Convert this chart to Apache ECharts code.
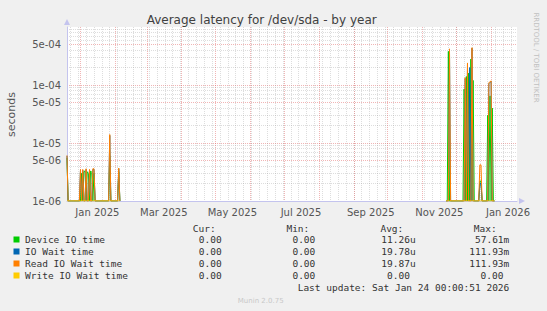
<!DOCTYPE html>
<html><head><meta charset="utf-8">
<script src="https://cdn.jsdelivr.net/npm/echarts@6/dist/echarts.min.js"></script>
<style>html,body{margin:0;padding:0;background:#f0f0f0}#c{width:547px;height:311px}</style>
</head><body><div id="c"></div>
<script>
// ---------------- data ----------------
const seriesNames = ['Device IO time', 'IO Wait time', 'Read IO Wait time', 'Write IO Wait time'];
const seriesColors = ['#00cc00', '#0066b3', '#ff8000', '#ffcc00'];

// daily values, window 1 starts 2024-12-20, window 2 starts 2025-11-22 (0 = idle)
const window1Start = [2024, 11, 20];
const window2Start = [2025, 10, 22];

const deviceIO_w1 = [5.5e-6, 0,0,0,0,0,0,0,0,0,0,0,
  0,3.0e-6,0,3.2e-6,3.3e-6,0,3.2e-6,3.0e-6,0,3.3e-6,3.1e-6,0,3.0e-6,0,
  0,0,0,0,0,0,0,0,0,0,0,0,
  6e-6,0,0,0,0,0,0,0,3.2e-6,0];
const ioWait_w1 = [6.0e-6, 0,0,0,0,0,0,0,0,0,0,0,
  3.4e-6,0,3.4e-6,0,0,3.5e-6,0,0,3.4e-6,0,0,3.5e-6,3.5e-6,0,
  0,0,0,0,0,0,0,0,0,0,0,0,
  1.35e-5,0,0,0,0,0,0,0,3.6e-6,0];
const readIO_w1 = [6.1e-6, 0,0,0,0,0,0,0,0,0,0,0,
  3.5e-6,0,3.5e-6,0,0,3.6e-6,0,0,3.5e-6,0,0,3.6e-6,3.6e-6,0,
  0,0,0,0,0,0,0,0,0,0,0,0,
  1.4e-5,0,0,0,0,0,0,0,3.7e-6,0];
const writeIO_w1 = [0,0,0,0,0,0,0,0,0,0,0,0,
  0,0,0,0,0,0,0,0,0,0,0,0,0,0,
  0,0,0,0,0,0,0,0,0,0,0,0,
  0,0,0,0,0,0,0,0,0,0];

const deviceIO_w2 = [0,0,3.8e-4,0,
  0,0,0,0,0,0,0,0,0,0,0,0,
  8.5e-5,0,1.4e-4,0,1.6e-4,0,2.8e-4,0,1.2e-4,
  0,0,0,0,0,
  2.2e-6,2.2e-6,
  0,0,0,0,0,
  3e-5,0,6.5e-5,0,4e-5,0,0];
const ioWait_w2 = [0,0,0,4.0e-4,
  0,0,0,0,0,0,0,0,0,0,0,0,
  0,1.3e-4,0,2.3e-4,0,2.0e-4,0,4.3e-4,0,
  0,0,0,0,0,
  2.0e-6,2.0e-6,
  0,0,0,0,0,
  0,1.05e-4,1.1e-4,1.15e-4,0,0,0];
const readIO_w2 = [0,0,0,4.2e-4,
  0,0,0,0,0,0,0,0,0,0,0,0,
  0,1.34e-4,0,2.4e-4,0,0,0,4.4e-4,0,
  0,0,0,0,0,
  4.2e-6,4.2e-6,
  0,0,0,0,0,
  0,1.1e-4,1.13e-4,1.18e-4,0,0,0];
const writeIO_w2 = [0,0,0,0,
  0,0,0,0,0,0,0,0,0,0,0,0,
  0,0,0,0,0,0,0,0,0,
  0,0,0,0,0,
  0,0,
  0,0,0,0,0,
  0,0,0,0,0,0,0];

// axis ticks / labels
const yLabelValues = [1e-6, 5e-6, 1e-5, 5e-5, 1e-4, 5e-4];
const yLabelTexts = ['1e-06', '5e-06', '1e-05', '5e-05', '1e-04', '5e-04'];
const xLabelDates = [[2025,0,16],[2025,2,16],[2025,4,16],[2025,6,16],[2025,8,16],[2025,10,16],[2026,0,16]];
const xLabelTexts = ['Jan 2025','Mar 2025','May 2025','Jul 2025','Sep 2025','Nov 2025','Jan 2026'];

// legend table
const legCur = ['0.00','0.00','0.00','0.00'];
const legMin = ['0.00','0.00','0.00','0.00'];
const legAvg = ['11.26u','19.78u','19.87u','0.00'];
const legMax = ['57.61m','111.93m','111.93m','0.00'];
const lastUpdate = 'Last update: Sat Jan 24 00:00:51 2026';

// ---------------- build ----------------
const xMin = new Date(2024, 11, 20, 0, 0, 51).getTime();
const xMax = new Date(2026, 0, 24, 0, 0, 51).getTime();
const yMin = 1e-6, yMax = 1e-3;

function ts(a) { return new Date(a[0], a[1], a[2]).getTime(); }
function windowPoints(start, vals) {
  return vals.map((v, i) => [new Date(start[0], start[1], start[2] + i).getTime(), v <= yMin ? yMin : v]);
}
function buildSeries(w1, w2) {
  const endW1 = new Date(window1Start[0], window1Start[1], window1Start[2] + w1.length).getTime();
  return windowPoints(window1Start, w1).concat([[endW1, null]], windowPoints(window2Start, w2));
}
const allData = [
  buildSeries(deviceIO_w1, deviceIO_w2),
  buildSeries(ioWait_w1, ioWait_w2),
  buildSeries(readIO_w1, readIO_w2),
  buildSeries(writeIO_w1, writeIO_w2)
];

// grid line positions
const monthStarts = [];
for (let m = 0; m <= 12; m++) monthStarts.push(new Date(2025, m, 1).getTime());
const weekLines = [];
for (let d = new Date(2024, 11, 23); d.getTime() < xMax; d = new Date(d.getFullYear(), d.getMonth(), d.getDate() + 7)) weekLines.push(d.getTime());
const yMinor = [];
for (let e = -6; e <= -4; e++) for (const k of [2,3,4,6,7,8,9]) yMinor.push(parseFloat((k * Math.pow(10, e)).toPrecision(3)));
const xLabelVals = xLabelDates.map(ts);

const axisColor = '#c4c4ee';
const majorGrid = { color: 'rgba(225,90,90,0.45)', width: 1, type: [1, 1] };
const minorGrid = { color: 'rgba(150,150,150,0.32)', width: 1, type: [1, 1] };

const chart = echarts.init(document.getElementById('c'), null, { renderer: 'svg', width: 547, height: 311 });

const textColor = '#333';
const mono = 'DejaVu Sans Mono';
const legendGraphics = [];
const rowsY = [239.5, 251.5, 263.5, 275.5];
function t(x, y, text, align, extra) {
  return Object.assign({ type: 'text', x: x, y: y, silent: true,
    style: { text: text, fill: textColor, font: '9.5px "' + mono + '"', textAlign: align, textVerticalAlign: 'middle' } }, extra || {});
}
legendGraphics.push(t(215.7, 228.5, 'Cur:', 'right'));
legendGraphics.push(t(309.3, 228.5, 'Min:', 'right'));
legendGraphics.push(t(403.3, 228.5, 'Avg:', 'right'));
legendGraphics.push(t(496.7, 228.5, 'Max:', 'right'));
seriesNames.forEach((n, i) => {
  const y = rowsY[i];
  legendGraphics.push({ type: 'rect', silent: true, shape: { x: 13.5, y: y - 3, width: 6, height: 6 }, style: { fill: seriesColors[i] } });
  legendGraphics.push(t(25, y, n, 'left'));
  legendGraphics.push(t(221.7, y, legCur[i], 'right'));
  legendGraphics.push(t(315.3, y, legMin[i], 'right'));
  const av = legAvg[i], mx = legMax[i];
  legendGraphics.push(t(/[a-z]$/.test(av) ? 415.7 : 409.9, y, av, 'right'));
  legendGraphics.push(t(/[a-z]$/.test(mx) ? 509.3 : 503.5, y, mx, 'right'));
});
legendGraphics.push(t(509.3, 287.5, lastUpdate, 'right'));

const option = {
  backgroundColor: '#f0f0f0',
  animation: false,
  grid: { left: 67, right: 30, top: 27, bottom: 110, show: true, backgroundColor: '#ffffff', borderWidth: 0, containLabel: false },
  xAxis: [
    { type: 'value', min: xMin, max: xMax, position: 'bottom', scale: true,
      axisLine: { show: false }, axisTick: { show: false, customValues: weekLines },
      axisLabel: { show: false }, splitLine: { show: true, lineStyle: minorGrid } },
    { type: 'value', min: xMin, max: xMax, position: 'bottom', scale: true,
      axisLine: { show: true, onZero: false, lineStyle: { color: axisColor, width: 1 }, symbol: ['none', 'triangle'], symbolSize: [6, 6], symbolOffset: [0, 5] },
      axisTick: { show: false, customValues: monthStarts },
      axisLabel: { customValues: xLabelVals, color: '#555', fontSize: 10, fontFamily: 'DejaVu Sans', margin: 6,
        formatter: function (v) { const i = xLabelVals.findIndex(x => Math.abs(x - v) < 3600000); return i >= 0 ? xLabelTexts[i] : ''; } },
      splitLine: { show: true, lineStyle: majorGrid } }
  ],
  yAxis: [
    { type: 'log', logBase: 10, min: yMin, max: yMax, position: 'left',
      axisLine: { show: false }, axisTick: { show: false, customValues: yMinor },
      axisLabel: { show: false }, splitLine: { show: true, lineStyle: minorGrid } },
    { type: 'log', logBase: 10, min: yMin, max: yMax, position: 'left',
      axisLine: { show: true, onZero: false, lineStyle: { color: axisColor, width: 1 }, symbol: ['none', 'triangle'], symbolSize: [6, 6], symbolOffset: [0, 5] },
      axisTick: { show: false, customValues: yLabelValues },
      axisLabel: { customValues: yLabelValues, color: '#555', fontSize: 10, fontFamily: 'DejaVu Sans', margin: 6,
        formatter: function (v) { const i = yLabelValues.findIndex(x => Math.abs(Math.log10(x) - Math.log10(v)) < 1e-6); return i >= 0 ? yLabelTexts[i] : ''; } },
      splitLine: { show: true, lineStyle: majorGrid } }
  ],
  series: seriesNames.map((n, i) => ({
    name: n, type: 'line', xAxisIndex: 1, yAxisIndex: 1, data: allData[i],
    showSymbol: false, symbol: 'none', connectNulls: false, clip: true,
    lineStyle: { color: seriesColors[i], width: 1 }, itemStyle: { color: seriesColors[i] },
    emphasis: { disabled: true }, z: 3 + i
  })),
  graphic: [
    { type: 'text', x: 146.7, y: 19.5, silent: true, style: { text: 'Average latency for /dev/sda - by year', fill: '#404040', font: '12px "DejaVu Sans"', textVerticalAlign: 'middle' } },
    { type: 'text', x: 11, y: 114.5, rotation: Math.PI / 2, silent: true, style: { text: 'seconds', fill: '#555', font: '11px "DejaVu Sans"', textAlign: 'center', textVerticalAlign: 'middle' } },
    { type: 'text', x: 536, y: 57.5, rotation: -Math.PI / 2, silent: true, style: { text: 'RRDTOOL / TOBI OETIKER', fill: '#c0c0c0', font: '7px "DejaVu Sans"', textAlign: 'center', textVerticalAlign: 'middle' } },
    { type: 'text', x: 260.7, y: 300.5, silent: true, style: { text: 'Munin 2.0.75', fill: '#c8c8c8', font: '7px "DejaVu Sans"', textAlign: 'center', textVerticalAlign: 'middle' } }
  ].concat(legendGraphics)
};
chart.setOption(option);
</script>
</body></html>
